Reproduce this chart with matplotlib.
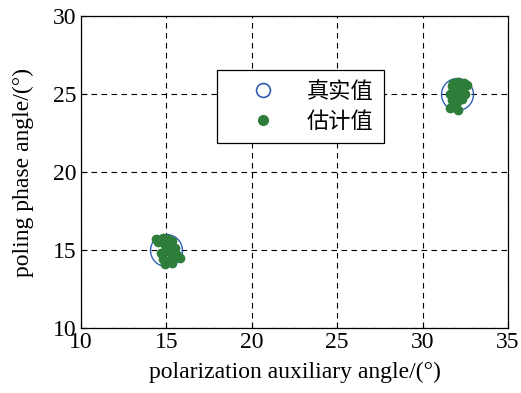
import matplotlib.pyplot as plt
from matplotlib.lines import Line2D

# true values
true_x = [15, 32]
true_y = [15, 25]

# estimated values
est_x = [14.4, 14.5, 14.8, 15.1, 15.3, 14.9, 15.0, 14.7, 15.2, 15.4,
         15.6, 15.8, 15.1, 14.9, 15.3, 14.8, 15.5, 14.6, 15.0, 15.2,
         31.8, 32.1, 32.4, 32.6, 31.9, 32.2, 31.6, 32.0, 32.5, 31.7,
         32.0, 31.8, 31.6, 32.1, 31.9, 32.3, 31.7, 32.2]
est_y = [15.7, 15.5, 15.8, 15.7, 15.6, 15.3, 15.0, 14.8, 14.9, 14.6,
         14.7, 14.5, 14.3, 14.1, 14.2, 14.4, 15.1, 15.6, 15.5, 15.3,
         25.7, 25.8, 25.7, 25.6, 25.3, 25.2, 25.0, 24.9, 25.0, 24.6,
         24.5, 24.2, 24.1, 24.0, 24.4, 24.7, 25.5, 25.5]

xticks = [10, 15, 20, 25, 30, 35]
yticks = [10, 15, 20, 25, 30]

BLUE = "#2f5fb3"
GREEN = "#2e7d3a"

plt.rcParams['font.family'] = ['Liberation Serif', 'Noto Sans CJK SC']

fig = plt.figure(figsize=(5.21, 3.93), dpi=100)
ax = fig.add_axes([0.1555, 0.1654, 0.8195, 0.7936])

ax.plot(true_x, true_y, 'o', markersize=23, markerfacecolor='none',
        markeredgecolor=BLUE, markeredgewidth=1.0, zorder=2)
ax.plot(est_x, est_y, 'o', markersize=6, color=GREEN, zorder=3)

ax.set_xlim(10, 35)
ax.set_ylim(10, 30)
ax.set_xticks(xticks)
ax.set_yticks(yticks)
ax.tick_params(direction='in', labelsize=17, length=4, pad=3)
ax.grid(True, linestyle=(0, (5, 4)), color='black', linewidth=0.8)
for s in ax.spines.values():
    s.set_linewidth(0.9)

ax.set_xlabel("polarization auxiliary angle/(°)", fontsize=17, labelpad=6)
ax.set_ylabel("poling phase angle/(°)", fontsize=17, labelpad=14)

handles = [
    Line2D([], [], marker='o', linestyle='none', markersize=10,
           markerfacecolor='none', markeredgecolor=BLUE, markeredgewidth=1.2),
    Line2D([], [], marker='o', linestyle='none', markersize=7, color=GREEN),
]
leg = ax.legend(handles, ["真实值", "估计值"], loc='upper left',
                bbox_to_anchor=(0.318, 0.827), fancybox=False, framealpha=1,
                edgecolor='black', prop={'family': ['Noto Sans CJK SC'], 'size': 16},
                handletextpad=0.3, borderpad=0.45, labelspacing=0.3,
                handlelength=3.3, borderaxespad=0)
leg.get_frame().set_linewidth(0.9)
# stretch the legend box to the reference width
fig.canvas.draw()
frame = leg.get_frame()
frame.set_width(frame.get_width() + 10)

fig.savefig("out.png", dpi=100)
